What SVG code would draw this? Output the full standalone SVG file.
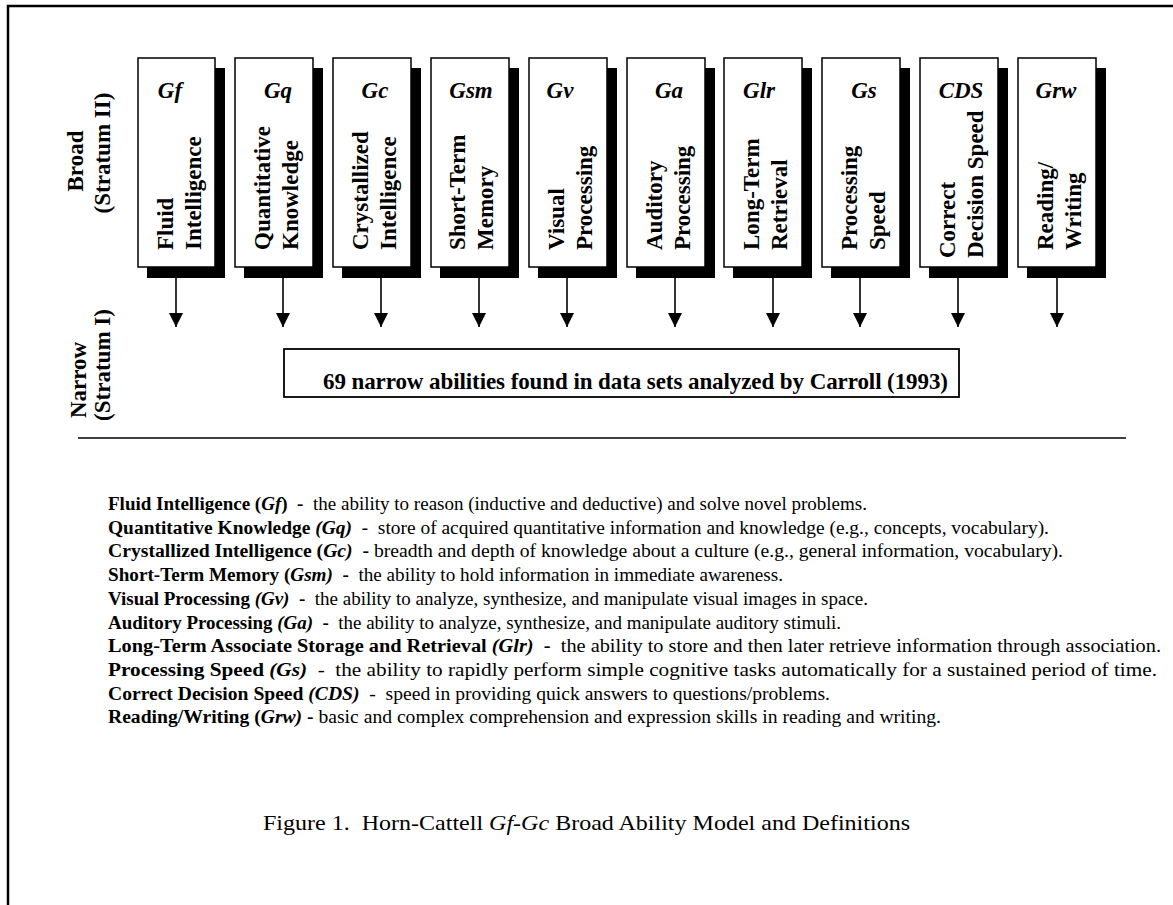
<svg xmlns="http://www.w3.org/2000/svg" width="1173" height="905" viewBox="0 0 1173 905">
  <style>
    text { font-family: "Liberation Serif", "Times New Roman", serif; fill: #000; }
    .lab { font-size: 23px; font-weight: bold; }
    .abbr { font-size: 23px; font-weight: bold; font-style: italic; text-anchor: middle; }
    .def { font-size: 18px; }
    .b { font-weight: bold; }
    .bi { font-weight: bold; font-style: italic; }
    .i { font-style: italic; }
    .cap { font-size: 21px; }
    .shadow { fill: #000; }
    .box { fill: #fff; stroke: #000; stroke-width: 1.5; }
    .conn { stroke: #000; stroke-width: 1.6; fill: none; }
  </style>
  <defs>
    <!-- filled triangular arrowhead, tip at the end of the line -->
    <marker id="head" markerWidth="14" markerHeight="14" viewBox="0 0 14 14" refX="14" refY="7" orient="auto" markerUnits="userSpaceOnUse">
      <path d="M0,0 L14,7 L0,14 Z" fill="#000"/>
    </marker>
  </defs>

  <rect width="1173" height="905" fill="#fff"/>
  <!-- page frame -->
  <path d="M8,905 V6 H1173" fill="none" stroke="#000" stroke-width="2.5"/>

  <!-- stratum labels -->
  <g id="label-broad" class="lab">
    <text transform="translate(83,161) rotate(-90)" text-anchor="middle">Broad</text>
    <text transform="translate(110,153) rotate(-90)" text-anchor="middle">(Stratum II)</text>
  </g>
  <g id="label-narrow" class="lab">
    <text transform="translate(86,380) rotate(-90)" text-anchor="middle">Narrow</text>
    <text transform="translate(110,365) rotate(-90)" text-anchor="middle">(Stratum I)</text>
  </g>

  <!-- broad ability boxes -->
  <g id="node-gf">
    <rect class="shadow" x="147" y="68" width="78" height="210"/>
    <rect class="box" x="138" y="58" width="77" height="209"/>
    <text class="abbr" x="170" y="98">Gf</text>
    <text class="lab" transform="translate(173,250) rotate(-90)">Fluid</text>
    <text class="lab" transform="translate(201,250) rotate(-90)">Intelligence</text>
  </g>
  <g id="node-gq">
    <rect class="shadow" x="244" y="68" width="79" height="210"/>
    <rect class="box" x="235" y="58" width="78" height="209"/>
    <text class="abbr" x="278" y="98">Gq</text>
    <text class="lab" transform="translate(270,250) rotate(-90)">Quantitative</text>
    <text class="lab" transform="translate(298,250) rotate(-90)">Knowledge</text>
  </g>
  <g id="node-gc">
    <rect class="shadow" x="342" y="68" width="79" height="210"/>
    <rect class="box" x="333" y="58" width="78" height="209"/>
    <text class="abbr" x="375" y="98">Gc</text>
    <text class="lab" transform="translate(368,250) rotate(-90)">Crystallized</text>
    <text class="lab" transform="translate(396,250) rotate(-90)">Intelligence</text>
  </g>
  <g id="node-gsm">
    <rect class="shadow" x="440" y="68" width="79" height="210"/>
    <rect class="box" x="431" y="58" width="78" height="209"/>
    <text class="abbr" x="471" y="98">Gsm</text>
    <text class="lab" transform="translate(465,250) rotate(-90)">Short-Term</text>
    <text class="lab" transform="translate(493,250) rotate(-90)">Memory</text>
  </g>
  <g id="node-gv">
    <rect class="shadow" x="538" y="68" width="79" height="210"/>
    <rect class="box" x="529" y="58" width="78" height="209"/>
    <text class="abbr" x="560" y="98">Gv</text>
    <text class="lab" transform="translate(564,250) rotate(-90)">Visual</text>
    <text class="lab" transform="translate(592,250) rotate(-90)">Processing</text>
  </g>
  <g id="node-ga">
    <rect class="shadow" x="636" y="68" width="79" height="210"/>
    <rect class="box" x="627" y="58" width="78" height="209"/>
    <text class="abbr" x="669" y="98">Ga</text>
    <text class="lab" transform="translate(662,250) rotate(-90)">Auditory</text>
    <text class="lab" transform="translate(690,250) rotate(-90)">Processing</text>
  </g>
  <g id="node-glr">
    <rect class="shadow" x="733" y="68" width="79" height="210"/>
    <rect class="box" x="724" y="58" width="78" height="209"/>
    <text class="abbr" x="759" y="98">Glr</text>
    <text class="lab" transform="translate(759,250) rotate(-90)">Long-Term</text>
    <text class="lab" transform="translate(787,250) rotate(-90)">Retrieval</text>
  </g>
  <g id="node-gs">
    <rect class="shadow" x="831" y="68" width="79" height="210"/>
    <rect class="box" x="822" y="58" width="78" height="209"/>
    <text class="abbr" x="864" y="98">Gs</text>
    <text class="lab" transform="translate(857,250) rotate(-90)">Processing</text>
    <text class="lab" transform="translate(885,250) rotate(-90)">Speed</text>
  </g>
  <g id="node-cds">
    <rect class="shadow" x="929" y="68" width="79" height="210"/>
    <rect class="box" x="920" y="58" width="78" height="209"/>
    <text class="abbr" x="961" y="98">CDS</text>
    <text class="lab" transform="translate(955,258) rotate(-90)">Correct</text>
    <text class="lab" transform="translate(983,258) rotate(-90)">Decision Speed</text>
  </g>
  <g id="node-grw">
    <rect class="shadow" x="1027" y="68" width="79" height="210"/>
    <rect class="box" x="1018" y="58" width="78" height="209"/>
    <text class="abbr" x="1056" y="98">Grw</text>
    <text class="lab" transform="translate(1053,250) rotate(-90)">Reading/</text>
    <text class="lab" transform="translate(1081,250) rotate(-90)">Writing</text>
  </g>

  <!-- arrows from each broad ability down to the narrow level -->
  <g id="connectors" class="conn">
    <line x1="176" y1="278" x2="176" y2="327" marker-end="url(#head)"/>
    <line x1="283" y1="278" x2="283" y2="327" marker-end="url(#head)"/>
    <line x1="381" y1="278" x2="381" y2="327" marker-end="url(#head)"/>
    <line x1="479" y1="278" x2="479" y2="327" marker-end="url(#head)"/>
    <line x1="567" y1="278" x2="567" y2="327" marker-end="url(#head)"/>
    <line x1="675" y1="278" x2="675" y2="327" marker-end="url(#head)"/>
    <line x1="773" y1="278" x2="773" y2="327" marker-end="url(#head)"/>
    <line x1="860" y1="278" x2="860" y2="327" marker-end="url(#head)"/>
    <line x1="958" y1="278" x2="958" y2="327" marker-end="url(#head)"/>
    <line x1="1057" y1="278" x2="1057" y2="327" marker-end="url(#head)"/>
  </g>

  <!-- narrow abilities box -->
  <g id="node-narrow">
    <rect x="284" y="349" width="675" height="48" fill="#fff" stroke="#000" stroke-width="1.8"/>
    <text class="lab" x="323" y="389" textLength="625" lengthAdjust="spacing">69 narrow abilities found in data sets analyzed by Carroll (1993)</text>
  </g>

  <!-- separator -->
  <line x1="78" y1="438" x2="1126" y2="438" stroke="#000" stroke-width="1.6"/>

  <!-- definitions -->
  <g id="definitions" class="def">
    <text xml:space="preserve" x="108" y="510" textLength="759" lengthAdjust="spacingAndGlyphs"><tspan class="b">Fluid Intelligence (</tspan><tspan class="bi">Gf</tspan><tspan class="b">)  -  </tspan>the ability to reason (inductive and deductive) and solve novel problems.</text>
    <text xml:space="preserve" x="108" y="533.7" textLength="941" lengthAdjust="spacingAndGlyphs"><tspan class="b">Quantitative Knowledge </tspan><tspan class="bi">(Gq)  -  </tspan>store of acquired quantitative information and knowledge (e.g., concepts, vocabulary).</text>
    <text xml:space="preserve" x="108" y="557.4" textLength="955" lengthAdjust="spacingAndGlyphs"><tspan class="b">Crystallized Intelligence (</tspan><tspan class="bi">Gc)</tspan><tspan class="b">  - </tspan>breadth and depth of knowledge about a culture (e.g., general information, vocabulary).</text>
    <text xml:space="preserve" x="108" y="581" textLength="675" lengthAdjust="spacingAndGlyphs"><tspan class="b">Short-Term Memory (</tspan><tspan class="bi">Gsm)</tspan><tspan class="b">  -  </tspan>the ability to hold information in immediate awareness.</text>
    <text xml:space="preserve" x="108" y="604.8" textLength="760" lengthAdjust="spacingAndGlyphs"><tspan class="b">Visual Processing </tspan><tspan class="bi">(Gv)</tspan><tspan class="b">  -  </tspan>the ability to analyze, synthesize, and manipulate visual images in space.</text>
    <text xml:space="preserve" x="108" y="628.5" textLength="733" lengthAdjust="spacingAndGlyphs"><tspan class="b">Auditory Processing </tspan><tspan class="bi">(Ga)</tspan><tspan class="b">  -  </tspan>the ability to analyze, synthesize, and manipulate auditory stimuli.</text>
    <text xml:space="preserve" x="108" y="652.2" textLength="1053" lengthAdjust="spacingAndGlyphs"><tspan class="b">Long-Term Associate Storage and Retrieval </tspan><tspan class="bi">(Glr)</tspan><tspan class="b">  -  </tspan>the ability to store and then later retrieve information through association.</text>
    <text xml:space="preserve" x="108" y="676" textLength="1049" lengthAdjust="spacingAndGlyphs"><tspan class="b">Processing Speed </tspan><tspan class="bi">(Gs)</tspan>  -  the ability to rapidly perform simple cognitive tasks automatically for a sustained period of time.</text>
    <text xml:space="preserve" x="108" y="699.7" textLength="722" lengthAdjust="spacingAndGlyphs"><tspan class="b">Correct Decision Speed </tspan><tspan class="bi">(CDS)</tspan>  -  speed in providing quick answers to questions/problems.</text>
    <text xml:space="preserve" x="108" y="723.4" textLength="833" lengthAdjust="spacingAndGlyphs"><tspan class="b">Reading/Writing (</tspan><tspan class="bi">Grw)</tspan><tspan class="b"> - </tspan>basic and complex comprehension and expression skills in reading and writing.</text>
  </g>

  <!-- caption -->
  <text id="caption" class="cap" x="263" y="830" textLength="647" lengthAdjust="spacingAndGlyphs" xml:space="preserve">Figure 1.  Horn-Cattell <tspan class="i">Gf-Gc</tspan> Broad Ability Model and Definitions</text>
</svg>
